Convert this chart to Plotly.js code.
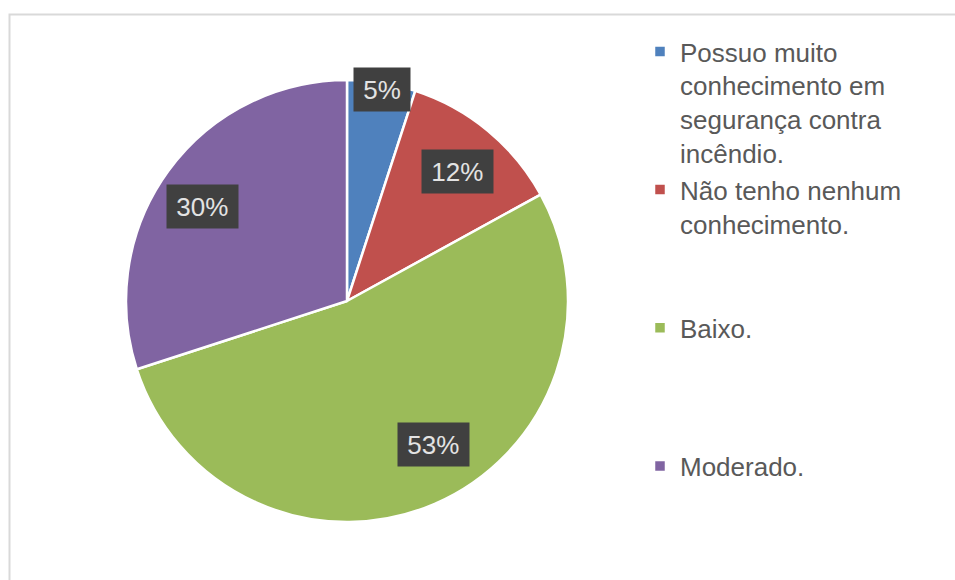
<!DOCTYPE html>
<html>
<head>
<meta charset="utf-8">
<script src="https://cdn.plot.ly/plotly-3.0.1.min.js"></script>
<style>html,body{margin:0;padding:0;background:#fff;}#chart{width:955px;height:580px;}</style>
</head>
<body>
<div id="chart"></div>
<script>
// ---- data ----
var categories = [
  "Possuo muito<br>conhecimento em<br>segurança contra<br>incêndio.",
  "Não tenho nenhum<br>conhecimento.",
  "Baixo.",
  "Moderado."
];
var values = [5, 12, 53, 30];
var colors = ["#4f81bd", "#c0504d", "#9bbb59", "#8064a2"];

// ---- layout constants ----
var W = 955, H = 580;
var pieDomain = {x: [125 / W, 569 / W], y: [1 - 522 / H, 1 - 80 / H]};
var labelRadius = [0.97, 0.77, 0.76, 0.78];
var labelAngleNudge = [0.3, 0.7, -7.6, -2.8]; // degrees
var FONT = "Liberation Sans, Arial, sans-serif";

// pad legend entries (except the last) to equal height (4 lines)
var legendLabels = categories.map(function (c, idx) {
  var n = c.split("<br>").length;
  var s = c;
  if (idx < categories.length - 1) {
    for (var i = n; i < 4; i++) s += "<br><span> </span>";
  }
  return s;
});

// label annotations computed from values
var total = values.reduce(function (a, b) { return a + b; }, 0);
var cxPx = (pieDomain.x[0] + pieDomain.x[1]) / 2 * W;
var cyPx = (1 - (pieDomain.y[0] + pieDomain.y[1]) / 2) * H;
var Rpx = Math.min((pieDomain.x[1] - pieDomain.x[0]) * W, (pieDomain.y[1] - pieDomain.y[0]) * H) / 2;
var annotations = [];
var cum = 0;
values.forEach(function (v, i) {
  var mid = (cum + v / 2) / total * 2 * Math.PI + labelAngleNudge[i] * Math.PI / 180;
  cum += v;
  var r = Rpx * labelRadius[i];
  var px = cxPx + r * Math.sin(mid);
  var py = cyPx - r * Math.cos(mid);
  annotations.push({
    xref: "paper", yref: "paper",
    x: px / W, y: 1 - py / H,
    xanchor: "center", yanchor: "middle",
    showarrow: false,
    text: "\u00a0" + Math.round(v / total * 100) + "%\u00a0",
    font: {family: FONT, size: 26, color: "#e3e3e3"},
    bgcolor: "#404040",
    borderpad: 2,
    height: 39
  });
});

var trace = {
  type: "pie",
  labels: legendLabels,
  values: values,
  sort: false,
  direction: "clockwise",
  rotation: 0,
  domain: pieDomain,
  marker: {colors: colors, line: {color: "#ffffff", width: 2.5}},
  textinfo: "none",
  hoverinfo: "label+percent"
};

var layout = {
  width: W, height: H,
  margin: {l: 0, r: 0, t: 0, b: 0},
  paper_bgcolor: "#ffffff",
  plot_bgcolor: "#ffffff",
  showlegend: true,
  legend: {
    x: 640 / W, xanchor: "left",
    y: 1 - 28 / H, yanchor: "top",
    valign: "top",
    font: {family: FONT, size: 26, color: "#595959"},
    bgcolor: "rgba(0,0,0,0)"
  },
  annotations: annotations,
  shapes: [{
    type: "rect", xref: "paper", yref: "paper",
    x0: 9.5 / W, x1: 1.05, y0: -0.05, y1: 1 - 14.5 / H,
    line: {color: "#d9d9d9", width: 2},
    fillcolor: "rgba(0,0,0,0)",
    layer: "below"
  }]
};

Plotly.newPlot("chart", [trace], layout, {displayModeBar: false, staticPlot: true});
</script>
</body>
</html>
